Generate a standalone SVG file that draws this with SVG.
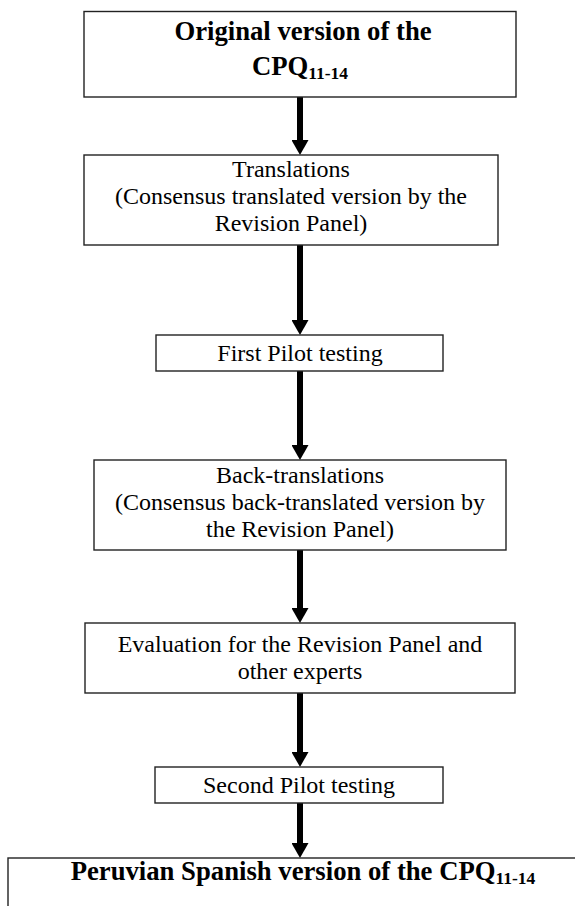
<svg xmlns="http://www.w3.org/2000/svg" width="575" height="906" viewBox="0 0 575 906">
<style>
.box{fill:#fff;stroke:#222;stroke-width:1.4}
.t{font-family:"Liberation Serif","Times New Roman",serif;font-size:24px;fill:#000;text-anchor:middle}
.b{font-family:"Liberation Serif","Times New Roman",serif;font-size:26.7px;font-weight:bold;fill:#000;text-anchor:middle}
.sub{font-size:17.5px}
.arr{stroke:#000;stroke-width:6;fill:none;marker-end:url(#head)}
</style>
<defs>
<marker id="head" viewBox="0 0 15 17" refX="1" refY="8.5" markerWidth="15" markerHeight="17" markerUnits="userSpaceOnUse" orient="auto">
<path d="M0,0 L15,8.5 L0,17 Z" fill="#000"/>
</marker>
</defs>
<g id="connectors">
<line class="arr" x1="300" y1="97" x2="300" y2="141"/>
<line class="arr" x1="300" y1="245" x2="300" y2="321"/>
<line class="arr" x1="300" y1="371" x2="300" y2="446"/>
<line class="arr" x1="300" y1="550" x2="300" y2="609"/>
<line class="arr" x1="300" y1="693" x2="300" y2="753"/>
<line class="arr" x1="300" y1="803" x2="300" y2="844"/>
</g>
<g id="n1">
<rect class="box" x="84" y="11.5" width="432" height="85.5"/>
<text class="b" x="303" y="40">Original version of the</text>
<text class="b" x="300" y="75">CPQ<tspan class="sub" dy="4">11-14</tspan></text>
</g>
<g id="n2">
<rect class="box" x="84" y="155" width="414" height="90"/>
<text class="t" x="291" y="177">Translations</text>
<text class="t" x="291" y="204">(Consensus translated version by the</text>
<text class="t" x="291" y="231">Revision Panel)</text>
</g>
<g id="n3">
<rect class="box" x="156" y="335" width="287" height="36"/>
<text class="t" x="300" y="361">First Pilot testing</text>
</g>
<g id="n4">
<rect class="box" x="94" y="460" width="412" height="90"/>
<text class="t" x="300" y="483">Back-translations</text>
<text class="t" x="300" y="510">(Consensus back-translated version by</text>
<text class="t" x="300" y="537">the Revision Panel)</text>
</g>
<g id="n5">
<rect class="box" x="85" y="623" width="430" height="70"/>
<text class="t" x="300" y="652">Evaluation for the Revision Panel and</text>
<text class="t" x="300" y="679">other experts</text>
</g>
<g id="n6">
<rect class="box" x="155" y="767" width="288" height="36"/>
<text class="t" x="299" y="793">Second Pilot testing</text>
</g>
<g id="n7">
<rect class="box" x="8" y="858" width="580" height="60"/>
<text class="b" x="303" y="880">Peruvian Spanish version of the CPQ<tspan class="sub" dy="4">11-14</tspan></text>
</g>
</svg>
